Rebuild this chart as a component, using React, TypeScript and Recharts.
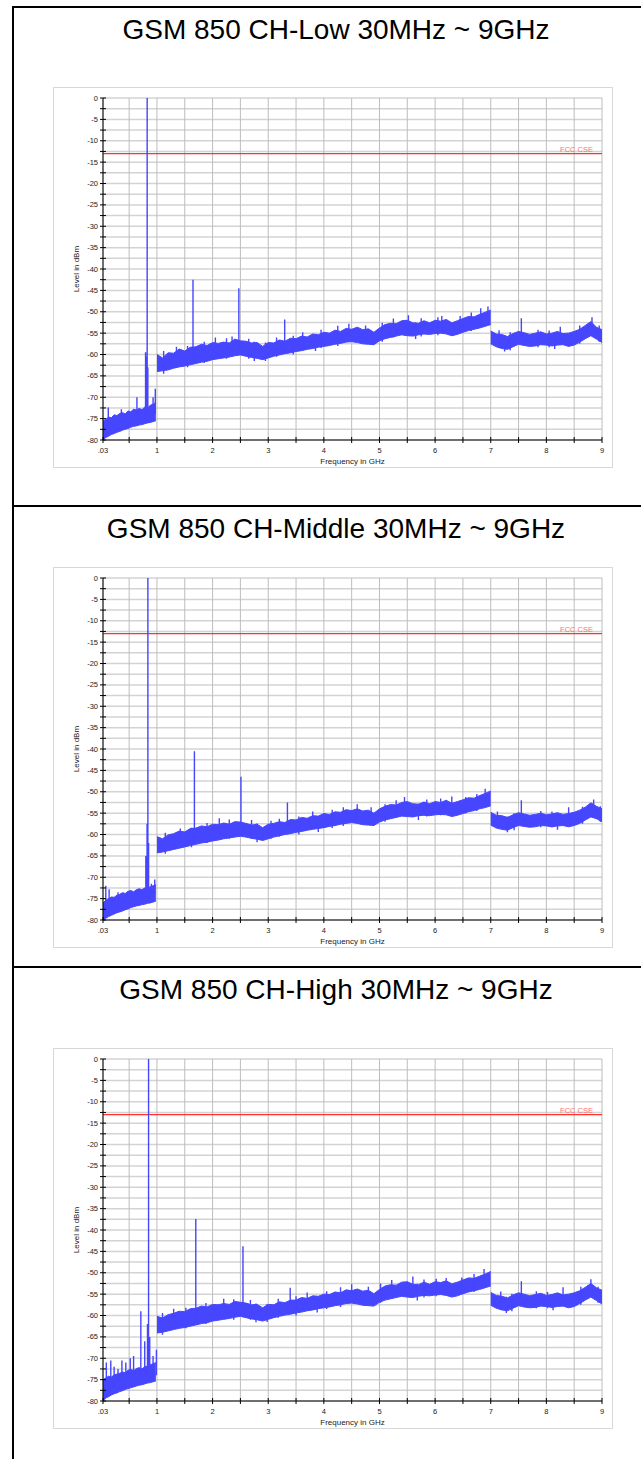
import React from "react";
import {
  Area,
  CartesianGrid,
  ComposedChart,
  Line,
  ReferenceLine,
  XAxis,
  YAxis,
} from "recharts";

// axis ticks
const xTicks = [0.03, 0.5, 1, 1.5, 2, 2.5, 3, 3.5, 4, 4.5, 5, 5.5, 6, 6.5, 7, 7.5, 8, 8.5, 9];
const yTicks = [
  0, -2.5, -5, -7.5, -10, -12.5, -15, -17.5, -20, -22.5, -25, -27.5, -30, -32.5, -35, -37.5,
  -40, -42.5, -45, -47.5, -50, -52.5, -55, -57.5, -60, -62.5, -65, -67.5, -70, -72.5, -75,
  -77.5, -80,
];

const limitLevel = -13;
const limitName = "FCC CSE";

const titles = [
  "GSM 850 CH-Low 30MHz ~ 9GHz",
  "GSM 850 CH-Middle 30MHz ~ 9GHz",
  "GSM 850 CH-High 30MHz ~ 9GHz",
];

// sweep segments of the analyzer (GHz)
const sweepA = { start: 0.03, step: 0.05 }; // 0.03 .. 0.98
const sweepB = { start: 1.0, step: 0.1 }; // 1.0 .. 7.0
const sweepC = { start: 7.0, step: 0.1 }; // 7.0 .. 9.0

// ---- CH-Low ----
const lowA_max = [-75.5, -75.2, -74.6, -74.8, -74.1, -74.3, -73.8, -73.6, -73.9, -73.2, -73.4, -72.8, -73.0, -72.6, -72.9, -72.3, -72.5, -71.9, -71.6, -71.2];
const lowA_min = [-80.0, -79.4, -79.1, -78.7, -78.5, -78.2, -78.0, -77.7, -77.5, -77.3, -77.0, -76.8, -76.7, -76.5, -76.4, -76.2, -76.0, -75.9, -75.7, -75.5];
const lowB_max = [
  -60, -60.8, -59.6, -59.7, -58.7, -59.2, -58.3, -58.2, -57.6, -57.9,
  -57.2, -57.4, -57.1, -57.3, -56.4, -56.8, -56.9, -57.3, -57.2, -58.1,
  -57.2, -57.3, -56.6, -56.9, -56.2, -56.3, -55.7, -55.9, -55.2, -55.4,
  -54.8, -55.0, -54.3, -54.6, -53.9, -54.1, -53.6, -54.2, -54.0, -54.8,
  -53.8, -53.0, -52.7, -52.8, -52.1, -52.0, -52.6, -52.7, -52.1, -52.6,
  -52.0, -52.2, -51.8, -52.6, -52.1, -51.6, -51.1, -51.2, -50.6, -50.1,
  -49.6,
];
const lowB_min = [
  -64.0, -63.8, -63.6, -63.2, -62.9, -62.7, -62.4, -62.1, -61.8, -61.6,
  -61.2, -61.0, -60.8, -60.6, -60.3, -60.1, -60.4, -60.7, -60.9, -61.2,
  -60.8, -60.4, -60.1, -59.8, -59.6, -59.3, -59.1, -58.8, -58.6, -58.3,
  -58.1, -57.9, -57.6, -57.4, -57.1, -57.0, -57.2, -57.5, -57.6, -57.7,
  -56.8, -56.3, -56.0, -55.7, -55.4, -55.6, -55.7, -55.4, -55.2, -55.3,
  -55.1, -55.0, -55.2, -55.6, -55.3, -54.8, -54.4, -54.1, -53.8, -53.4,
  -53.0,
];
const lowC_max = [-54.5, -55.2, -55.3, -55.8, -55.1, -54.6, -54.9, -55.3, -55.0, -54.7, -55.2, -55.0, -54.6, -55.1, -55.0, -54.6, -54.1, -53.2, -52.3, -53.6, -54.2];
const lowC_min = [-57.5, -58.2, -58.6, -58.8, -58.2, -57.6, -57.9, -58.1, -58.0, -57.7, -57.8, -58.0, -57.8, -57.7, -58.1, -57.8, -57.1, -56.3, -55.6, -56.4, -57.2];
// [GHz, from dBm, to dBm]
const lowSpikes = [
  [0.125, -77, -72.4], [0.36, -76.5, -72.8], [0.64, -75.5, -70], [0.795, -74, -59.5],
  [0.81, -74, -60.5], [0.824, -74, 0], [0.836, -74, -63], [0.93, -74, -70], [0.97, -74, -68],
  [1.12, -64.5, -59.2], [1.35, -61, -58.2], [1.55, -63, -58], [1.648, -61, -42.5],
  [1.85, -62, -57], [2.05, -60, -56], [2.25, -61, -56.2], [2.35, -59, -55.8],
  [2.472, -59, -44.5], [2.65, -61, -56.3], [2.75, -57, -61.5], [2.95, -61.5, -57.2],
  [3.15, -60.5, -56], [3.296, -58, -51.8], [3.45, -60, -55.6], [3.62, -57, -54.8],
  [3.85, -55.5, -59.2], [3.95, -58.5, -54.2], [4.25, -58, -53.3], [4.45, -56, -52.8],
  [4.75, -57.5, -53.2], [5.05, -57, -52.6], [5.25, -56, -51.6], [5.52, -54, -50.8],
  [5.65, -52.5, -56.4], [5.75, -55.8, -51.5], [6.05, -55.5, -51.3], [6.12, -54, -51],
  [6.45, -55, -51], [6.65, -54.5, -50.2], [6.82, -52, -49.2], [6.95, -52, -48.8],
  [7.15, -58.5, -54.3], [7.25, -55.5, -59.3], [7.35, -59, -54.8], [7.55, -56, -51.5],
  [7.85, -58.3, -54.2], [8.05, -58.3, -54.4], [8.15, -55, -58.7], [8.25, -56, -53.5],
  [8.6, -57.5, -53.2], [8.82, -54, -51.3], [8.95, -57, -53.2],
];

// ---- CH-Middle ----
const midA_max = [-76.0, -75.4, -75.0, -74.6, -74.7, -74.2, -74.0, -73.6, -73.8, -73.3, -73.1, -73.4, -72.9, -72.7, -72.9, -72.5, -72.6, -72.2, -72.0, -71.7];
const midA_min = [-80.0, -79.6, -79.2, -78.9, -78.6, -78.3, -78.1, -77.9, -77.6, -77.4, -77.1, -76.9, -76.7, -76.6, -76.4, -76.3, -76.1, -76.0, -75.8, -75.6];
const midB_max = [
  -60.5, -61.0, -60.1, -59.8, -59.2, -59.4, -58.6, -58.5, -58.0, -58.2,
  -57.6, -57.7, -57.3, -57.6, -57.0, -57.1, -57.4, -57.8, -57.6, -58.4,
  -57.6, -57.4, -57.0, -57.2, -56.5, -56.6, -56.0, -56.2, -55.6, -55.7,
  -55.1, -55.3, -54.7, -54.8, -54.2, -54.4, -54.0, -54.5, -54.3, -55.0,
  -54.0, -53.4, -53.0, -53.1, -52.5, -52.3, -52.8, -52.9, -52.4, -52.8,
  -52.3, -52.5, -52.0, -52.7, -52.3, -51.9, -51.4, -51.5, -50.9, -50.4,
  -49.8,
];
const midB_min = [
  -64.3, -64.1, -63.8, -63.5, -63.2, -62.9, -62.6, -62.3, -62.0, -61.8,
  -61.5, -61.3, -61.0, -60.8, -60.6, -60.4, -60.6, -60.9, -61.1, -61.4,
  -61.0, -60.6, -60.3, -60.0, -59.8, -59.5, -59.3, -59.0, -58.8, -58.6,
  -58.4, -58.1, -57.9, -57.6, -57.4, -57.2, -57.4, -57.7, -57.8, -57.9,
  -57.1, -56.6, -56.3, -56.0, -55.7, -55.8, -55.9, -55.6, -55.5, -55.6,
  -55.4, -55.3, -55.4, -55.8, -55.5, -55.1, -54.7, -54.4, -54.0, -53.7,
  -53.3,
];
const midC_max = [-54.8, -55.5, -55.6, -56.0, -55.4, -54.9, -55.2, -55.5, -55.3, -55.0, -55.4, -55.2, -54.9, -55.3, -55.1, -54.8, -54.3, -53.6, -52.6, -53.4, -54.0];
const midC_min = [-57.8, -58.5, -58.8, -59.0, -58.4, -57.9, -58.1, -58.3, -58.2, -57.9, -58.0, -58.2, -58.0, -57.9, -58.2, -57.9, -57.4, -56.6, -55.9, -56.3, -57.0];
const midSpikes = [
  [0.08, -78, -72], [0.14, -77.5, -72.8], [0.3, -77, -73.5], [0.8, -75, -65],
  [0.822, -74, -57.5], [0.837, -74, 0], [0.85, -74, -62], [0.9, -74, -71.5], [0.96, -74, -70.5],
  [1.15, -64.5, -59.6], [1.42, -61, -58.6], [1.62, -63, -58.4], [1.673, -61, -40.5],
  [1.9, -62, -57.3], [2.12, -60, -56.2], [2.3, -61, -56.5], [2.51, -59, -46.5],
  [2.7, -61, -56.6], [2.8, -57.4, -61.8], [3.05, -61, -56.8], [3.2, -60.5, -56.3],
  [3.345, -58, -52.5], [3.55, -60, -55.8], [3.8, -57, -54.6], [3.9, -55.8, -59.4],
  [4.15, -58.5, -54.2], [4.35, -58, -53.6], [4.6, -56, -52.9], [4.85, -57.5, -53.6],
  [5.1, -57, -52.9], [5.3, -56, -52], [5.45, -54, -51.2], [5.7, -52.8, -56.6],
  [5.85, -55.8, -51.8], [6.1, -55.5, -51.6], [6.3, -54, -51.1], [6.55, -55, -51.2],
  [6.75, -54.5, -50.5], [6.9, -52, -49.3], [7.12, -58.5, -54.6], [7.3, -55.8, -59.5],
  [7.42, -59, -55], [7.55, -56, -52], [7.9, -58.3, -54.5], [8.1, -58.3, -54.6],
  [8.2, -55.2, -58.9], [8.4, -56, -53.6], [8.65, -57.5, -53.5], [8.85, -54, -51.8],
  [8.97, -57, -53.4],
];

// ---- CH-High ----
const highA_max = [-75.0, -74.6, -74.2, -74.4, -73.9, -73.7, -73.5, -73.2, -73.4, -72.8, -72.6, -72.9, -72.4, -72.2, -72.5, -72.0, -71.8, -71.5, -71.3, -71.0];
const highA_min = [-80.0, -79.3, -79.0, -78.6, -78.3, -78.1, -77.8, -77.6, -77.3, -77.1, -76.9, -76.7, -76.5, -76.3, -76.2, -76.0, -75.8, -75.7, -75.5, -75.3];
const highB_max = [
  -60.2, -60.6, -59.8, -59.5, -59.0, -59.1, -58.4, -58.3, -57.8, -58.0,
  -57.4, -57.5, -57.2, -57.4, -56.7, -56.9, -57.1, -57.5, -57.4, -58.2,
  -57.4, -57.5, -56.8, -57.0, -56.4, -56.4, -55.8, -56.0, -55.4, -55.5,
  -55.0, -55.1, -54.5, -54.7, -54.0, -54.2, -53.8, -54.3, -54.1, -54.9,
  -53.9, -53.1, -52.8, -52.9, -52.2, -52.1, -52.7, -52.8, -52.2, -52.7,
  -52.1, -52.3, -51.9, -52.6, -52.2, -51.7, -51.2, -51.3, -50.8, -50.3,
  -49.7,
];
const highB_min = [
  -64.1, -63.9, -63.6, -63.3, -63.0, -62.8, -62.5, -62.2, -61.9, -61.7,
  -61.3, -61.1, -60.9, -60.7, -60.4, -60.2, -60.5, -60.8, -61.0, -61.3,
  -60.9, -60.5, -60.2, -59.9, -59.7, -59.4, -59.2, -58.9, -58.7, -58.4,
  -58.2, -58.0, -57.7, -57.5, -57.2, -57.1, -57.3, -57.6, -57.7, -57.8,
  -56.9, -56.4, -56.1, -55.8, -55.5, -55.7, -55.8, -55.5, -55.3, -55.4,
  -55.2, -55.1, -55.3, -55.7, -55.4, -54.9, -54.5, -54.2, -53.9, -53.5,
  -53.1,
];
const highC_max = [-54.6, -55.3, -55.5, -55.9, -55.2, -54.7, -55.0, -55.4, -55.1, -54.8, -55.3, -55.1, -54.7, -55.2, -55.0, -54.7, -54.2, -53.4, -52.5, -53.5, -54.1];
const highC_min = [-57.6, -58.3, -58.7, -58.9, -58.3, -57.7, -58.0, -58.2, -58.1, -57.8, -57.9, -58.1, -57.9, -57.8, -58.2, -57.9, -57.2, -56.4, -55.7, -56.5, -57.3];
const highSpikes = [
  [0.09, -78, -71], [0.17, -77.5, -70.5], [0.23, -77, -72], [0.3, -77, -72.5],
  [0.37, -77, -70.5], [0.44, -76.5, -71], [0.52, -76, -70], [0.58, -76, -69.5],
  [0.71, -75.5, -59], [0.78, -75, -66], [0.83, -74.5, -62], [0.849, -74.5, 0],
  [0.87, -74.5, -65], [0.93, -74, -69.5], [0.99, -74, -68],
  [1.1, -64.5, -59.4], [1.3, -61, -58.4], [1.52, -63, -58.2], [1.698, -61, -37.4],
  [1.88, -62, -57.1], [2.2, -60, -56.1], [2.38, -61, -56.2], [2.546, -59, -43.8],
  [2.68, -61, -56.4], [2.78, -57.2, -61.6], [2.98, -61.5, -57.3], [3.18, -60.5, -56.1],
  [3.395, -58, -53.5], [3.5, -60, -55.5], [3.7, -57, -54.6], [3.88, -55.6, -59.3],
  [4.05, -58.5, -54.3], [4.3, -58, -53.4], [4.5, -56, -52.7], [4.8, -57.5, -53.3],
  [5.02, -57, -52.5], [5.22, -56, -51.7], [5.6, -54, -50.9], [5.68, -52.6, -56.5],
  [5.8, -55.8, -51.6], [6.02, -55.5, -51.4], [6.2, -54, -51.2], [6.48, -55, -51.1],
  [6.7, -54.5, -50.3], [6.88, -52, -49.1], [7.18, -58.5, -54.4], [7.28, -55.6, -59.4],
  [7.38, -59, -54.9], [7.55, -56, -52], [7.82, -58.3, -54.3], [8.02, -58.3, -54.5],
  [8.12, -55.1, -58.8], [8.3, -56, -53.4], [8.62, -57.5, -53.3], [8.8, -54, -51.5],
  [8.93, -57, -53.3],
];

const panels = [
  { title: titles[0], a: [lowA_max, lowA_min], b: [lowB_max, lowB_min], c: [lowC_max, lowC_min], spikes: lowSpikes },
  { title: titles[1], a: [midA_max, midA_min], b: [midB_max, midB_min], c: [midC_max, midC_min], spikes: midSpikes },
  { title: titles[2], a: [highA_max, highA_min], b: [highB_max, highB_min], c: [highC_max, highC_min], spikes: highSpikes },
];

// page layout
const panelTops = [6, 505, 966];
const frameTops = [87, 567, 1048];

const TRACE = "#4646ff";
const FONT = "Arial, 'Liberation Sans', sans-serif";

function toBand(sweep: { start: number; step: number }, [max, min]: number[][]) {
  return max.map((v, i) => ({
    f: Math.round((sweep.start + sweep.step * i) * 1000) / 1000,
    band: [min[i], v],
  }));
}

function toSpikeLine(spikes: number[][]) {
  return spikes.flatMap(([f, from, to]) => [
    { f, s: from },
    { f, s: to },
    { f, s: null },
  ]);
}

function XTick(props: any) {
  const { x, y, payload } = props;
  const v = payload.value;
  const label = v === 0.03 ? ".03" : Number.isInteger(v) ? String(v) : "";
  return (
    <g>
      <line x1={x} x2={x} y1={y - 3} y2={y + 3} stroke="#000" />
      <text x={x} y={y + 13} textAnchor="middle" fontSize={7.5} fill="#222" fontFamily={FONT}>
        {label}
      </text>
    </g>
  );
}

function YTick(props: any) {
  const { x, y, payload } = props;
  const v = payload.value;
  const label = v % 5 === 0 ? String(v) : "";
  return (
    <g>
      <line x1={x - 3} x2={x + 3} y1={y} y2={y} stroke="#000" />
      <text x={x - 5} y={y + 2.6} textAnchor="end" fontSize={7.5} fill="#222" fontFamily={FONT}>
        {label}
      </text>
    </g>
  );
}

const FccLabel = (props: any) => {
  const vb = props.viewBox || { x: 0, y: 0, width: 0 };
  return (
    <text x={vb.x + vb.width - 9} y={vb.y - 1.5} textAnchor="end" fontSize={7.5} fill="#ff7070" fontFamily={FONT}>
      {limitName}
    </text>
  );
};

const YTitle = (props: any) => {
  const vb = props.viewBox || { x: 0, y: 0, width: 0, height: 0 };
  const cx = vb.x + 6;
  const cy = vb.y + vb.height / 2;
  return (
    <text x={cx} y={cy} transform={`rotate(-90, ${cx}, ${cy})`} textAnchor="middle" fontSize={8} fill="#222" fontFamily={FONT}>
      Level in dBm
    </text>
  );
};

const XTitle = (props: any) => {
  const vb = props.viewBox || { x: 0, y: 0, width: 0, height: 0 };
  return (
    <text x={vb.x + vb.width / 2} y={vb.y + 24} textAnchor="middle" fontSize={8} fill="#222" fontFamily={FONT}>
      Frequency in GHz
    </text>
  );
};

function SpectrumChart({ panel }: { panel: (typeof panels)[number] }) {
  const bandA = toBand(sweepA, panel.a);
  const bandB = toBand(sweepB, panel.b);
  const bandC = toBand(sweepC, panel.c);
  const spikeLine = toSpikeLine(panel.spikes);

  return (
    <ComposedChart width={558} height={379} margin={{ top: 10, right: 10, left: 19, bottom: 13 }}>
      <CartesianGrid vertical={false} stroke="#d3d3d3" strokeWidth={1.5} />
      <CartesianGrid horizontal={false} stroke="#bdbdbd" />
      <XAxis
        dataKey="f"
        type="number"
        domain={[0.03, 9]}
        ticks={xTicks}
        allowDataOverflow
        height={14}
        tickSize={0}
        tickMargin={0}
        tick={<XTick />}
        axisLine={{ stroke: "#000" }}
        interval={0}
        label={XTitle}
      />
      <YAxis
        type="number"
        domain={[-80, 0]}
        ticks={yTicks}
        allowDataOverflow
        width={30}
        tickSize={0}
        tickMargin={0}
        tick={<YTick />}
        axisLine={{ stroke: "#000" }}
        interval={0}
        label={YTitle}
      />
      <ReferenceLine y={limitLevel} stroke="#ff3030" strokeWidth={1.3} label={FccLabel} />
      {[bandA, bandB, bandC].map((d, i) => (
        <Area
          key={i}
          data={d}
          dataKey="band"
          type="linear"
          stroke={TRACE}
          strokeWidth={1}
          fill={TRACE}
          fillOpacity={1}
          dot={false}
          activeDot={false}
          isAnimationActive={false}
        />
      ))}
      <Line
        data={spikeLine}
        dataKey="s"
        type="linear"
        stroke={TRACE}
        strokeWidth={1.4}
        dot={false}
        activeDot={false}
        connectNulls={false}
        isAnimationActive={false}
      />
    </ComposedChart>
  );
}

export default function App() {
  return (
    <div
      style={{
        position: "absolute",
        left: 0,
        top: 0,
        width: 641,
        height: 1459,
        overflow: "hidden",
        background: "#fff",
        fontFamily: FONT,
      }}
    >
      {panels.map((p, i) => {
        const top = panelTops[i];
        const bottom = i < panels.length - 1 ? panelTops[i + 1] : 1470;
        return (
          <React.Fragment key={i}>
            <div
              style={{
                position: "absolute",
                left: 12,
                top,
                width: 660,
                height: bottom - top,
                borderTop: "2px solid #000",
                borderLeft: "2px solid #000",
                boxSizing: "border-box",
              }}
            />
            <div
              style={{
                position: "absolute",
                left: 14,
                width: 644,
                top: top + 8,
                height: 32,
                lineHeight: "32px",
                fontSize: 28,
                textAlign: "center",
                color: "#000",
                whiteSpace: "nowrap",
              }}
            >
              {p.title}
            </div>
            <div
              style={{
                position: "absolute",
                left: 53,
                top: frameTops[i],
                width: 558,
                height: 379,
                border: "1px solid #d8d8d8",
                background: "#fff",
              }}
            >
              <SpectrumChart panel={p} />
            </div>
          </React.Fragment>
        );
      })}
    </div>
  );
}
